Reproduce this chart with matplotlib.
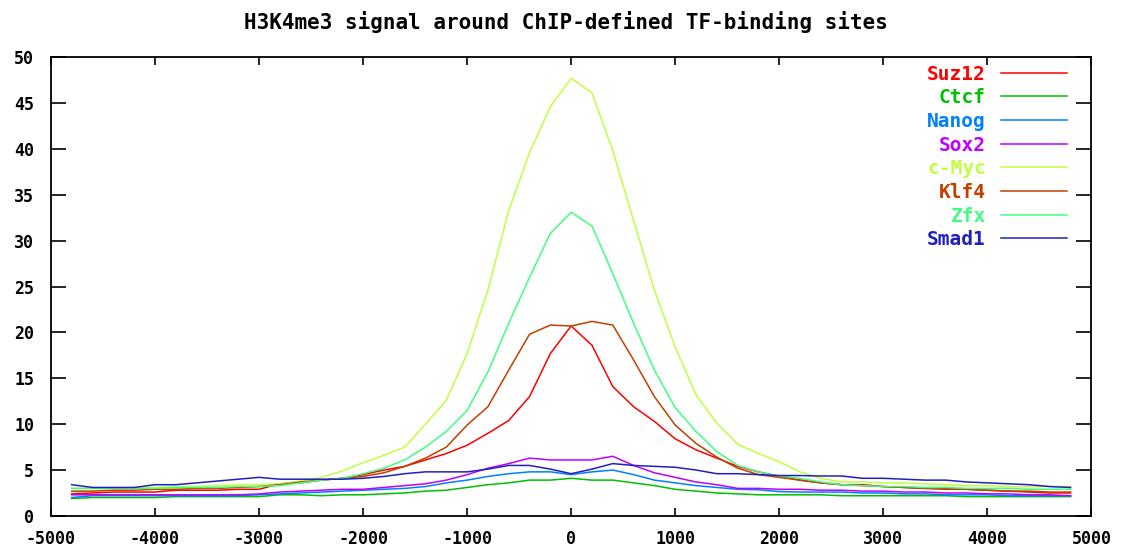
import numpy as np
import matplotlib
matplotlib.use("Agg")
import matplotlib.pyplot as plt

# positions relative to the binding site (bp)
pos = np.arange(-4800, 4801, 200)

suz12 = [2.4, 2.5, 2.6, 2.6, 2.6, 2.8, 2.8, 2.8, 2.9, 2.9, 3.5, 3.6, 3.9, 4.1, 4.5, 5.0, 5.4, 6.1, 6.8, 7.7, 9.0, 10.4, 13.0, 17.7,
         20.7,
         18.6, 14.1, 11.9, 10.3, 8.4, 7.2, 6.3, 5.4, 4.8, 4.3, 3.9, 3.6, 3.4, 3.4, 3.2, 3.1, 3.0, 3.0, 2.9, 2.8, 2.7, 2.6, 2.5, 2.5]
ctcf = [1.9, 2.0, 2.0, 2.0, 2.0, 2.1, 2.1, 2.1, 2.1, 2.1, 2.3, 2.3, 2.2, 2.3, 2.3, 2.4, 2.5, 2.7, 2.8, 3.1, 3.4, 3.6, 3.9, 3.9,
        4.1,
        3.9, 3.9, 3.6, 3.3, 2.9, 2.7, 2.5, 2.4, 2.3, 2.3, 2.3, 2.3, 2.2, 2.2, 2.2, 2.2, 2.2, 2.2, 2.1, 2.1, 2.1, 2.1, 2.1, 2.1]
nanog = [2.0, 2.2, 2.2, 2.2, 2.2, 2.2, 2.2, 2.2, 2.2, 2.3, 2.4, 2.5, 2.6, 2.7, 2.8, 2.9, 3.0, 3.2, 3.6, 3.9, 4.3, 4.6, 4.8, 4.8,
         4.5,
         4.8, 5.0, 4.5, 3.9, 3.6, 3.3, 3.1, 2.9, 2.85, 2.65, 2.6, 2.6, 2.6, 2.5, 2.5, 2.4, 2.4, 2.3, 2.3, 2.3, 2.2, 2.2, 2.2, 2.2]
sox2 = [2.3, 2.3, 2.3, 2.3, 2.3, 2.3, 2.3, 2.3, 2.3, 2.4, 2.6, 2.7, 2.8, 2.9, 2.9, 3.1, 3.3, 3.5, 3.9, 4.5, 5.2, 5.7, 6.3, 6.1,
        6.1,
        6.1, 6.5, 5.5, 4.7, 4.2, 3.7, 3.4, 3.0, 3.0, 2.9, 2.9, 2.8, 2.8, 2.7, 2.7, 2.6, 2.6, 2.5, 2.5, 2.4, 2.4, 2.3, 2.3, 2.2]
cmyc = [3.0, 3.0, 3.0, 3.1, 3.1, 3.2, 3.2, 3.3, 3.4, 3.4, 3.5, 3.8, 4.2, 4.9, 5.8, 6.6, 7.5, 10.0, 12.6, 17.7, 24.6, 33.3, 39.6, 44.6,
        47.7,
        46.1, 39.8, 32.2, 24.6, 18.4, 13.2, 10.1, 7.8, 6.8, 5.9, 4.8, 4.1, 3.7, 3.7, 3.6, 3.6, 3.5, 3.4, 3.3, 3.3, 3.2, 3.2, 3.2, 3.2]
klf4 = [2.7, 2.7, 2.8, 2.8, 2.9, 2.9, 3.0, 3.0, 3.1, 3.2, 3.4, 3.7, 3.9, 4.1, 4.3, 4.7, 5.4, 6.3, 7.5, 9.9, 11.9, 15.9, 19.8, 20.8,
        20.7,
        21.2, 20.8, 17.0, 13.0, 9.9, 7.9, 6.4, 5.2, 4.5, 4.2, 3.9, 3.6, 3.4, 3.3, 3.2, 3.1, 3.0, 2.9, 2.9, 2.8, 2.7, 2.7, 2.6, 2.6]
zfx = [3.0, 3.0, 3.0, 3.0, 3.0, 3.1, 3.1, 3.1, 3.2, 3.2, 3.3, 3.6, 3.9, 4.1, 4.6, 5.2, 6.1, 7.5, 9.2, 11.5, 15.7, 21.0, 26.0, 30.8,
       33.1,
       31.6, 26.4, 21.0, 15.9, 11.8, 9.2, 7.0, 5.5, 4.8, 4.35, 4.1, 3.7, 3.4, 3.3, 3.2, 3.2, 3.1, 3.1, 3.0, 3.0, 3.0, 2.9, 2.9, 2.9]
smad1 = [3.4, 3.1, 3.1, 3.1, 3.4, 3.4, 3.6, 3.8, 4.0, 4.2, 4.0, 4.0, 4.0, 4.0, 4.1, 4.3, 4.6, 4.8, 4.8, 4.8, 5.1, 5.5, 5.5, 5.1,
         4.6,
         5.1, 5.7, 5.5, 5.4, 5.3, 5.0, 4.6, 4.6, 4.5, 4.4, 4.4, 4.35, 4.35, 4.1, 4.1, 4.0, 3.9, 3.9, 3.7, 3.6, 3.5, 3.4, 3.2, 3.1]

names = ["Suz12", "Ctcf", "Nanog", "Sox2", "c-Myc", "Klf4", "Zfx", "Smad1"]
series = [suz12, ctcf, nanog, sox2, cmyc, klf4, zfx, smad1]
colours = ["#ff0000", "#00c000", "#0080ff", "#c000ff", "#c0ff40", "#c04000", "#40ff80", "#2020c0"]

plt.rcParams['font.family'] = ['DejaVu Sans Mono']
plt.rcParams['font.weight'] = 'bold'
plt.rcParams['axes.unicode_minus'] = False

fig = plt.figure(figsize=(11.31, 5.5), dpi=100)
ax = fig.add_axes([0.045, 0.062, 0.92, 0.834])

for name, vals, c in zip(names, series, colours):
    ax.plot(pos, vals, color=c, lw=1.1, label=name)

ax.set_xlim(-5000, 5000)
ax.set_ylim(0, 50)
ax.set_xticks(np.arange(-5000, 5001, 1000))
ax.set_yticks(np.arange(0, 51, 5))
ax.tick_params(axis='both', direction='in', top=True, right=True, labelsize=12, width=1.2)
ax.tick_params(axis='y', length=11, pad=12)
ax.tick_params(axis='x', length=6, pad=10)
for lab in ax.get_xticklabels() + ax.get_yticklabels():
    lab.set_fontweight('bold')
for s in ax.spines.values():
    s.set_linewidth(1.3)

fig.suptitle("H3K4me3 signal around ChIP-defined TF-binding sites",
             y=0.98, fontsize=15, fontweight='bold')

leg = ax.legend(loc='upper right', bbox_to_anchor=(0.993, 1.022), frameon=False,
                markerfirst=False, labelcolor='linecolor', fontsize=14,
                handlelength=3.4, labelspacing=0.24, handletextpad=0.75)
for t in leg.get_texts():
    t.set_fontweight('bold')

fig.savefig("out.png", dpi=100)
